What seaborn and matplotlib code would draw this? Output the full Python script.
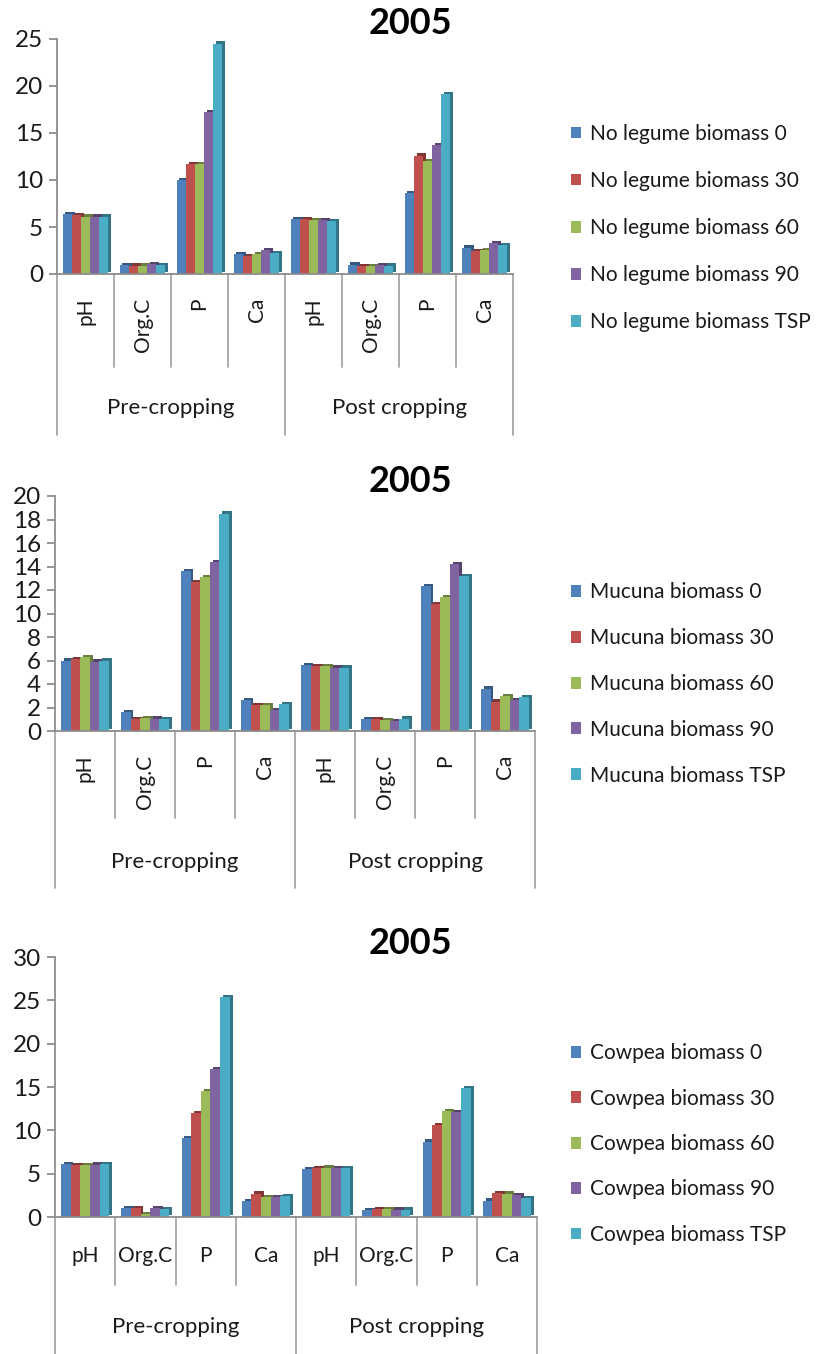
import matplotlib
matplotlib.use("Agg")
import matplotlib.pyplot as plt
import matplotlib.patheffects as pe
import seaborn as sns
import pandas as pd
import numpy as np

sns.set_theme(style="white")
plt.rcParams['font.family'] = ['Lato', 'DejaVu Sans']

# ---- data -------------------------------------------------------------
stages = ["Pre-cropping", "Post cropping"]
properties = ["pH", "Org.C", "P", "Ca"]
doses = ["0", "30", "60", "90", "TSP"]
colors = ["#4F81BD", "#C0504D", "#9BBB59", "#8064A2", "#4BACC6"]

# one row per dose; columns: Pre (pH, Org.C, P, Ca), Post (pH, Org.C, P, Ca)
no_legume = [
    [6.4, 0.95, 10.0, 2.1, 5.8, 1.0, 8.6, 2.8],
    [6.3, 0.9, 11.7, 1.9, 5.8, 0.85, 12.6, 2.4],
    [6.1, 0.9, 11.7, 2.1, 5.7, 0.8, 12.0, 2.5],
    [6.1, 1.05, 17.2, 2.5, 5.7, 0.95, 13.7, 3.3],
    [6.1, 0.95, 24.5, 2.2, 5.6, 0.9, 19.1, 3.1],
]
mucuna = [
    [6.0, 1.6, 13.6, 2.6, 5.6, 1.0, 12.3, 3.6],
    [6.1, 1.0, 12.7, 2.2, 5.5, 1.0, 10.8, 2.5],
    [6.3, 1.1, 13.1, 2.2, 5.5, 0.9, 11.4, 3.0],
    [5.9, 1.05, 14.4, 1.8, 5.4, 0.85, 14.2, 2.6],
    [6.0, 1.0, 18.5, 2.3, 5.4, 1.05, 13.2, 2.9],
]
cowpea = [
    [6.1, 1.0, 9.1, 1.8, 5.5, 0.8, 8.7, 1.9],
    [6.0, 1.0, 12.0, 2.7, 5.6, 0.95, 10.6, 2.8],
    [6.0, 0.3, 14.5, 2.3, 5.7, 0.9, 12.2, 2.7],
    [6.05, 1.0, 17.1, 2.3, 5.65, 0.85, 12.1, 2.5],
    [6.1, 0.95, 25.4, 2.4, 5.65, 0.85, 14.9, 2.2],
]


def long_frame(prefix, values):
    rows = []
    for dose, series in zip(doses, values):
        for i, v in enumerate(series):
            rows.append({
                "slot": f"{stages[i // 4]}|{properties[i % 4]}",
                "treatment": f"{prefix} biomass {dose}",
                "value": v,
            })
    return pd.DataFrame(rows)


slot_order = [f"{s}|{p}" for s in stages for p in properties]

# ---- layout (pixels) ----------------------------------------------------
W, H = 832, 1354
fig = plt.figure(figsize=(W / 100, H / 100), dpi=100)
fig.patch.set_facecolor("white")

panels = [
    dict(prefix="No legume", values=no_legume, ymax=25, step=5,
         box=(57, 513, 274, 39), rotate=True, title_y=24,
         inner=93, outer=161, group=134, legend_y=228, spacing=1.30),
    dict(prefix="Mucuna", values=mucuna, ymax=20, step=2,
         box=(55, 535, 731, 496), rotate=True, title_y=482,
         inner=87, outer=157, group=131, legend_y=684, spacing=1.24),
    dict(prefix="Cowpea", values=cowpea, ymax=30, step=5,
         box=(55, 537, 1217, 957), rotate=False, title_y=944,
         inner=68, outer=140, group=110, legend_y=1144, spacing=1.22),
]

axis_grey = "#8C8C8C"

for p in panels:
    left, right, yb, yt = p["box"]
    ax_h = yb - yt
    ax = fig.add_axes([left / W, 1 - yb / H, (right - left) / W, ax_h / H])
    df = long_frame(p["prefix"], p["values"])
    hue_order = [f"{p['prefix']} biomass {d}" for d in doses]
    sns.barplot(data=df, x="slot", y="value", hue="treatment",
                order=slot_order, hue_order=hue_order, palette=colors,
                saturation=1, width=0.8, errorbar=None, ax=ax,
                edgecolor="none", linewidth=0)

    handles, labels = ax.get_legend_handles_labels()
    if ax.get_legend() is not None:
        ax.get_legend().remove()

    # darker extruded side/top for a solid column look
    for bar in ax.patches:
        fc = bar.get_facecolor()
        dark = tuple(c * 0.68 for c in fc[:3])
        bar.set_path_effects([
            pe.SimplePatchShadow(offset=(2.0, 1.6), shadow_rgbFace=dark, alpha=1.0),
            pe.Normal(),
        ])

    ax.set_xlim(-0.5, 7.5)
    ax.set_ylim(0, p["ymax"])
    ax.set_yticks(np.arange(0, p["ymax"] + 0.1, p["step"]))
    ax.set_xticks(range(8))
    ax.set_xticklabels(properties * 2, rotation=90 if p["rotate"] else 0)
    ax.set_xlabel("")
    ax.set_ylabel("")
    for s in ("top", "right"):
        ax.spines[s].set_visible(False)
    for s in ("left", "bottom"):
        ax.spines[s].set_color(axis_grey)
        ax.spines[s].set_linewidth(1.3)
    ax.tick_params(axis="y", left=True, length=6, width=1.3, color=axis_grey,
                   labelsize=17.5, pad=4, labelcolor="#1a1a1a", direction="out")
    ax.tick_params(axis="x", bottom=False, length=0, labelsize=15,
                   pad=17 if p["rotate"] else 21, labelcolor="#1a1a1a")
    ax.set_facecolor("white")

    # category / group separators under the axis
    xt = ax.get_xaxis_transform()
    for k in range(9):
        depth = p["outer"] if k % 4 == 0 else p["inner"]
        ax.plot([k - 0.5, k - 0.5], [0, -depth / ax_h], transform=xt,
                color="#A6A6A6", lw=1.3, clip_on=False)
    for gi, stage in enumerate(stages):
        ax.text(gi * 4 + 1.5, -p["group"] / ax_h, stage, transform=xt,
                ha="center", va="center", fontsize=16, color="#1a1a1a")

    fig.text(410 / W, 1 - p["title_y"] / H, "2005", ha="center", va="center",
             fontsize=26, fontweight="bold", color="black")

    leg = fig.legend(handles, labels, loc="center left",
                     bbox_to_anchor=(571 / W, 1 - p["legend_y"] / H),
                     frameon=False, fontsize=15, handlelength=0.5,
                     handleheight=0.5, handletextpad=0.4,
                     labelspacing=p["spacing"],
                     borderpad=0, borderaxespad=0, labelcolor="#1a1a1a")
    for patch in leg.get_patches():
        patch.set_path_effects([])

fig.savefig("out.png", dpi=100, facecolor="white")
